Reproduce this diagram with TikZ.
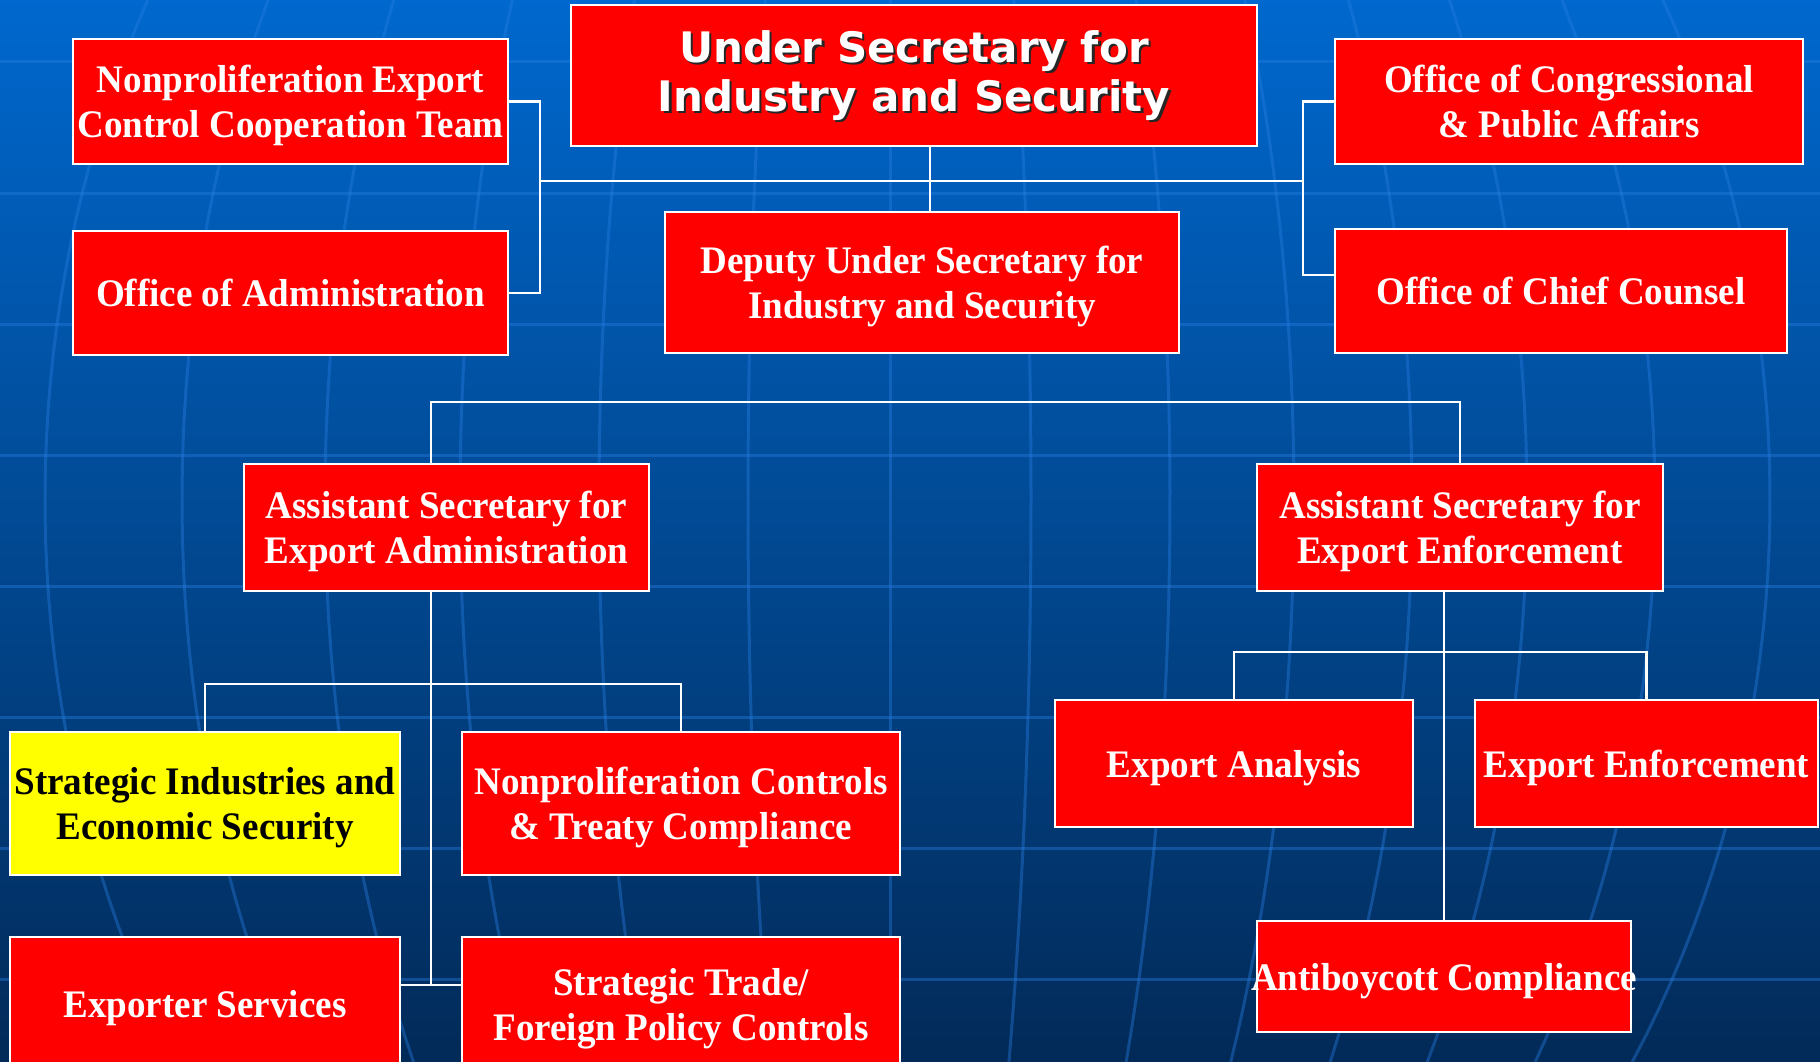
\documentclass[tikz,border=0pt]{standalone}
\usepackage{fontspec}
\setmainfont[FakeStretch=0.95]{Liberation Serif}
\newfontfamily\titlefont{DejaVu Sans}
\usetikzlibrary{positioning}

\definecolor{boxred}{RGB}{255,0,0}
\definecolor{boxyellow}{RGB}{255,255,0}
\definecolor{bgtop}{RGB}{0,104,206}
\definecolor{bgmid}{RGB}{0,80,160}
\definecolor{bgbottom}{RGB}{2,42,88}
\definecolor{globeblue}{RGB}{40,125,225}

\newcommand\ustitle{Under Secretary for\\Industry and Security}

\begin{document}
\begin{tikzpicture}[
		x=1pt, y=-1pt,
		block/.style={draw=white, line width=2pt, fill=boxred, text=white, align=center, inner sep=0pt,
			font=\fontsize{39}{45}\selectfont\bfseries, text height=36pt, text depth=9pt},
		twoline/.style={text height=81pt},
		link/.style={draw=white, line width=2.5pt},
		globeline/.style={draw=globeblue, line width=3pt, opacity=0.4},
	]
		\useasboundingbox (0,0) rectangle (1820,1062);
		\shade[top color=bgtop, middle color=bgmid, bottom color=bgbottom] (0,0) rectangle (1820,1062);

		% globe in the background
		\foreach \a in {-845,-708,-565,-430,-291,-142,0,141,280,404,522,637,765,880}
			\draw[globeline] plot[domain=0:1062, samples=40, variable=\t] ({890+\a*sqrt(1-((\t-500)/1046)^2)}, \t);
		\foreach \y in {62,193,324,455,586,717,848,979}
			\draw[globeline] (0,\y) -- (1820,\y);

		% top level
		\node (usis) at (914,76) [block, minimum width=686pt, minimum height=141pt,
			text height=81pt, text depth=10pt,
			font=\titlefont\fontsize{42}{49}\selectfont\bfseries,
			path picture={\node[text=black!85, align=center, inner sep=0pt, text height=81pt, text depth=10pt,
				font=\titlefont\fontsize{42}{49}\selectfont\bfseries]
				at ([xshift=2.5pt, yshift=-2.5pt]path picture bounding box.center) {\ustitle};}] {\ustitle};
		\node (necct) at (290.5,101.5) [block, twoline, minimum width=435pt, minimum height=125pt] {Nonproliferation Export\\Control Cooperation Team};
		\node (admin) [block, minimum width=435pt, minimum height=124pt, below=65pt of necct] {Office of Administration};
		\node (congr) at (1569,101.5) [block, twoline, minimum width=468pt, minimum height=125pt] {Office of Congressional\\\& Public Affairs};
		\node (counsel) at (1561,291) [block, minimum width=452pt, minimum height=124pt] {Office of Chief Counsel};
		\node (deputy) at (922,282.5) [block, twoline, minimum width=514pt, minimum height=141pt] {Deputy Under Secretary for\\Industry and Security};

		\coordinate (lbar) at (540,181);
		\coordinate (rbar) at (1303,181);
		\draw[link] (lbar) -- (rbar);
		\draw[link] ([xshift=16pt]usis.south) -- ([xshift=8pt]deputy.north);
		\draw[link] (necct.east) -| (lbar) |- (admin.east);
		\draw[link] (congr.west) -| (rbar) |- ([yshift=16pt]counsel.west);

		% assistant secretaries
		\node (asea) at (446.5,527.5) [block, twoline, minimum width=405pt, minimum height=127pt] {Assistant Secretary for\\Export Administration};
		\node (asee) at (1460,527.5) [block, twoline, minimum width=406pt, minimum height=127pt] {Assistant Secretary for\\Export Enforcement};

		\coordinate (midbar) at (0,402);
		\draw[link] ([xshift=-15.5pt]asea.north) |- (midbar -| asee.north) -- (asee.north);

		% export administration
		\node (sies) at (205,803.5) [block, twoline, fill=boxyellow, text=black, minimum width=390pt, minimum height=143pt] {Strategic Industries and\\Economic Security};
		\node (nctc) at (681,803.5) [block, twoline, minimum width=438pt, minimum height=143pt] {Nonproliferation Controls\\\& Treaty Compliance};
		\node (exps) at (205,1004) [block, minimum width=390pt, minimum height=135pt] {Exporter Services};
		\node (stfp) at (681,1004) [block, twoline, minimum width=438pt, minimum height=135pt] {Strategic Trade/\\Foreign Policy Controls};

		\coordinate (eatrunk) at ([xshift=-15.5pt]asea.south);
		\coordinate (eabar) at (0,684);
		\coordinate (eaend) at (0,985);
		\draw[link] (eatrunk) -- (eatrunk |- eaend);
		\draw[link] (sies.north) |- (eatrunk |- eabar) -| (nctc.north);
		\draw[link] (exps.east |- eaend) -- (stfp.west |- eaend);

		% export enforcement
		\node (expa) at (1234,763.5) [block, minimum width=358pt, minimum height=127pt] {Export Analysis};
		\node (expe) at (1646.5,763.5) [block, minimum width=343pt, minimum height=127pt] {Export Enforcement};
		\node (antib) at (1444,976.5) [block, minimum width=374pt, minimum height=111pt] {\makebox[0pt]{Antiboycott Compliance}};

		\coordinate (eetrunk) at ([xshift=-16pt]asee.south);
		\coordinate (eebar) at (0,652);
		\draw[link] (eetrunk) -- (antib.north);
		\draw[link] (expa.north) |- (eetrunk |- eebar) -| (expe.north);
	\end{tikzpicture}
\end{document}
